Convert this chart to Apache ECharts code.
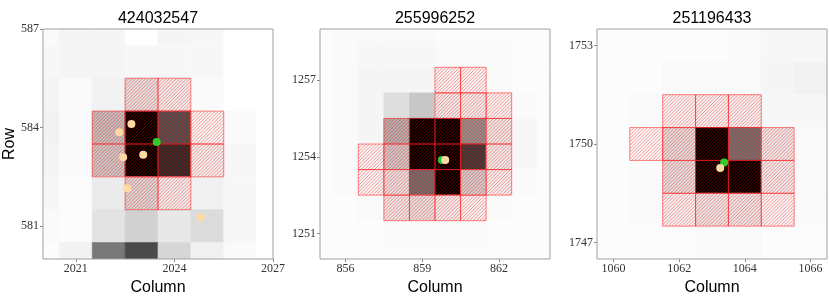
<!DOCTYPE html>
<html>
<head>
<meta charset="utf-8">
<script src="https://cdn.jsdelivr.net/npm/echarts@6/dist/echarts.min.js"></script>
<style>
    html, body { margin: 0; padding: 0; background: #fff; }
    #main { width: 830px; height: 307px; }
</style>
</head>
<body>
<div id="main"></div>
<script>
// ---- 面板1 424032547 ----
var title1  = '424032547';
var cols1   = [2020, 2021, 2022, 2023, 2024, 2025, 2026, 2027];
var rows1   = [587, 586, 585, 584, 583, 582, 581, 580];
// 像素亮度 (0 = 白, 1 = 黑)，按行从上到下
var flux1   = [
    [0.02, 0.04, 0.04, 0.00, 0.04, 0.03, 0.00, 0.00],
    [0.03, 0.04, 0.04, 0.03, 0.03, 0.03, 0.00, 0.00],
    [0.04, 0.02, 0.05, 0.12, 0.07, 0.02, 0.00, 0.00],
    [0.05, 0.02, 0.25, 1.00, 0.69, 0.03, 0.02, 0.00],
    [0.04, 0.02, 0.22, 1.00, 0.83, 0.06, 0.03, 0.00],
    [0.03, 0.01, 0.08, 0.16, 0.07, 0.06, 0.03, 0.00],
    [0.02, 0.01, 0.11, 0.18, 0.09, 0.14, 0.03, 0.00],
    [0.01, 0.05, 0.53, 0.71, 0.16, 0.06, 0.02, 0.00]
];
var aper1   = [[2023, 585], [2024, 585],
               [2022, 584], [2023, 584], [2024, 584], [2025, 584],
               [2022, 583], [2023, 583], [2024, 583], [2025, 583],
               [2023, 582], [2024, 582]];
var target1 = [[2023.46, 583.56]];
var nearby1 = [[2022.69, 584.11], [2022.32, 583.86], [2022.44, 583.10],
               [2023.05, 583.17], [2022.56, 582.15], [2024.80, 581.27]];
var xRange1 = [2020, 2027];
var yRange1 = [580, 587];
var xTicks1 = [2021, 2024, 2027];
var yTicks1 = [581, 584, 587];

// ---- 面板2 255996252 ----
var title2  = '255996252';
var cols2   = [855, 856, 857, 858, 859, 860, 861, 862, 863, 864];
var rows2   = [1259, 1258, 1257, 1256, 1255, 1254, 1253, 1252, 1251, 1250];
var flux2   = [
    [0.01, 0.02, 0.02, 0.02, 0.02, 0.01, 0.01, 0.01, 0.01, 0.01],
    [0.01, 0.02, 0.03, 0.03, 0.03, 0.02, 0.02, 0.02, 0.01, 0.01],
    [0.01, 0.02, 0.04, 0.04, 0.04, 0.04, 0.03, 0.02, 0.01, 0.01],
    [0.01, 0.02, 0.04, 0.13, 0.22, 0.08, 0.07, 0.04, 0.02, 0.01],
    [0.01, 0.02, 0.04, 0.31, 1.00, 1.00, 0.44, 0.09, 0.03, 0.01],
    [0.01, 0.02, 0.03, 0.22, 1.00, 1.00, 0.77, 0.08, 0.03, 0.01],
    [0.01, 0.02, 0.03, 0.12, 0.57, 1.00, 0.20, 0.06, 0.02, 0.01],
    [0.01, 0.01, 0.02, 0.09, 0.12, 0.07, 0.04, 0.02, 0.01, 0.01],
    [0.01, 0.01, 0.01, 0.02, 0.02, 0.02, 0.02, 0.01, 0.01, 0.01],
    [0.01, 0.01, 0.01, 0.01, 0.01, 0.01, 0.01, 0.01, 0.01, 0.01]
];
var aper2   = [[860, 1257], [861, 1257],
               [860, 1256], [861, 1256], [862, 1256],
               [858, 1255], [859, 1255], [860, 1255], [861, 1255], [862, 1255],
               [857, 1254], [858, 1254], [859, 1254], [860, 1254], [861, 1254], [862, 1254],
               [857, 1253], [858, 1253], [859, 1253], [860, 1253], [861, 1253], [862, 1253],
               [858, 1252], [859, 1252], [860, 1252], [861, 1252]];
var target2 = [[859.77, 1253.87]];
var nearby2 = [[859.90, 1253.87]];
var xRange2 = [855, 864];
var yRange2 = [1250, 1259];
var xTicks2 = [856, 859, 862];
var yTicks2 = [1251, 1254, 1257];

// ---- 面板3 251196433 ----
var title3  = '251196433';
var cols3   = [1060, 1061, 1062, 1063, 1064, 1065, 1066];
var rows3   = [1753, 1752, 1751, 1750, 1749, 1748, 1747];
var flux3   = [
    [0.01, 0.01, 0.01, 0.01, 0.02, 0.03, 0.03],
    [0.01, 0.01, 0.02, 0.02, 0.02, 0.04, 0.05],
    [0.01, 0.02, 0.04, 0.05, 0.05, 0.03, 0.03],
    [0.01, 0.02, 0.14, 1.00, 0.56, 0.09, 0.02],
    [0.01, 0.02, 0.13, 1.00, 1.00, 0.08, 0.02],
    [0.01, 0.02, 0.05, 0.10, 0.10, 0.03, 0.02],
    [0.01, 0.01, 0.01, 0.02, 0.02, 0.01, 0.01]
];
var aper3   = [[1062, 1751], [1063, 1751], [1064, 1751],
               [1061, 1750], [1062, 1750], [1063, 1750], [1064, 1750], [1065, 1750],
               [1062, 1749], [1063, 1749], [1064, 1749], [1065, 1749],
               [1062, 1748], [1063, 1748], [1064, 1748], [1065, 1748]];
var target3 = [[1063.37, 1749.44]];
var nearby3 = [[1063.25, 1749.27]];
var xRange3 = [1059.5, 1066.5];
var yRange3 = [1746.5, 1753.5];
var xTicks3 = [1060, 1062, 1064, 1066];
var yTicks3 = [1747, 1750, 1753];

// 二维数组 -> [col, row, value]
function pottGrid( cols, rows, flux ) {
    var result = [];
    for ( var i = 0; i < rows.length; i++ ){
        for ( var j = 0; j < cols.length; j++ ){
            result.push( [ cols[ j ], rows[ i ], flux[ i ][ j ] ] );
        }
    }
    return result;
}

// 一个像素格在屏幕上的矩形
function cellShape( api ) {
    var c = api.value( 0 ), r = api.value( 1 );
    var p0 = api.coord( [ c - 0.5, r + 0.5 ] );
    var p1 = api.coord( [ c + 0.5, r - 0.5 ] );
    return { x: p0[0], y: p0[1], width: p1[0] - p0[0], height: p1[1] - p0[1] };
}
// 灰度像素
function renderPixel( params, api ) {
    var v = Math.min( 1, api.value( 2 ) );
    var g = Math.round( 255 * ( 1 - v ) );
    var col = 'rgb(' + g + ',' + g + ',' + g + ')';
    return { type: 'rect', shape: cellShape( api ), style: { fill: col, stroke: col, lineWidth: 0.6 } };
}
// 孔径像素：斜线 (////) + 红框
var HATCH_STEP = 3.4;
function renderAperture( params, api ) {
    var s = cellShape( api );
    var x0 = s.x, y0 = s.y, x1 = s.x + s.width, y1 = s.y + s.height;
    // 线 x + y = c，全局对齐，相邻格子连续
    var d = '';
    var cStart = Math.ceil( ( x0 + y0 ) / HATCH_STEP ) * HATCH_STEP;
    for ( var c = cStart; c <= x1 + y1; c += HATCH_STEP ){
        var xa = Math.max( x0, c - y1 );
        var xb = Math.min( x1, c - y0 );
        if ( xb - xa < 0.2 ) continue;
        d += 'M' + xa.toFixed( 2 ) + ' ' + ( c - xa ).toFixed( 2 ) +
             'L' + xb.toFixed( 2 ) + ' ' + ( c - xb ).toFixed( 2 );
    }
    return {
        type: 'group',
        children: [
            { type: 'path', shape: { pathData: d },
              style: { fill: null, stroke: 'rgba(255,0,0,0.4)', lineWidth: 1 } },
            { type: 'rect', shape: s,
              style: { fill: null, stroke: 'rgba(255,30,30,0.55)', lineWidth: 1 } }
        ]
    };
}
function plainNum( v ) {
    return String( v );
}

var panels = [
    { title: title1, cols: cols1, rows: rows1, flux: flux1, aper: aper1, target: target1, nearby: nearby1,
      xr: xRange1, yr: yRange1, xt: xTicks1, yt: yTicks1, left: 43, row: true },
    { title: title2, cols: cols2, rows: rows2, flux: flux2, aper: aper2, target: target2, nearby: nearby2,
      xr: xRange2, yr: yRange2, xt: xTicks2, yt: yTicks2, left: 320, row: false },
    { title: title3, cols: cols3, rows: rows3, flux: flux3, aper: aper3, target: target3, nearby: nearby3,
      xr: xRange3, yr: yRange3, xt: xTicks3, yt: yTicks3, left: 597, row: false }
];

var sans  = 'Liberation Sans';
var serif = 'Liberation Serif';
var option = { animation: false, backgroundColor: '#fff',
               title: [], grid: [], xAxis: [], yAxis: [], series: [] };

for ( var i = 0; i < panels.length; i++ ){
    var p = panels[ i ];
    var W = 230, H = 230;
    option.title.push( {
        text: p.title, left: p.left + W / 2, top: 11, textAlign: 'center', padding: 0,
        textStyle: { fontFamily: sans, fontSize: 16, fontWeight: 'normal', color: '#000' }
    } );
    // 边框画在像素上面
    option.grid.push( {
        left: p.left, top: 29, width: W, height: H, show: true, z: 10,
        backgroundColor: 'transparent', borderColor: '#a0a0a0', borderWidth: 1
    } );
    option.xAxis.push( {
        gridIndex: i, type: 'value', min: p.xr[0], max: p.xr[1],
        name: 'Column', nameLocation: 'middle', nameGap: 17,
        nameTextStyle: { fontFamily: sans, fontSize: 16, color: '#000' },
        axisLine: { show: false },
        axisTick: { show: true, length: 3, customValues: p.xt, lineStyle: { color: '#888' } },
        axisLabel: { customValues: p.xt, margin: 4, fontFamily: serif, fontSize: 12, color: '#333',
                     showMinLabel: true, showMaxLabel: true, formatter: plainNum },
        splitLine: { show: false }
    } );
    option.yAxis.push( {
        gridIndex: i, type: 'value', min: p.yr[0], max: p.yr[1],
        name: p.row ? 'Row' : '', nameLocation: 'middle', nameGap: 22,
        nameTextStyle: { fontFamily: sans, fontSize: 16, color: '#000' },
        axisLine: { show: false },
        axisTick: { show: true, length: 3, customValues: p.yt, lineStyle: { color: '#888' } },
        axisLabel: { customValues: p.yt, margin: 4, fontFamily: serif, fontSize: 12, color: '#333',
                     showMinLabel: true, showMaxLabel: true, formatter: plainNum },
        splitLine: { show: false }
    } );
    option.series.push( {
        type: 'custom', xAxisIndex: i, yAxisIndex: i, clip: true, z: 1,
        renderItem: renderPixel, data: pottGrid( p.cols, p.rows, p.flux )
    } );
    option.series.push( {
        type: 'custom', xAxisIndex: i, yAxisIndex: i, clip: true, z: 2,
        renderItem: renderAperture, data: p.aper
    } );
    option.series.push( {
        type: 'scatter', xAxisIndex: i, yAxisIndex: i, z: 3, symbolSize: 8,
        itemStyle: { color: '#2ecc2e', opacity: 1 }, data: p.target
    } );
    option.series.push( {
        type: 'scatter', xAxisIndex: i, yAxisIndex: i, z: 4, symbolSize: 8,
        itemStyle: { color: '#ffd9a3', opacity: 1 }, data: p.nearby
    } );
}

var myChart = echarts.init( document.getElementById( 'main' ) );
myChart.setOption( option );
</script>
</body>
</html>
